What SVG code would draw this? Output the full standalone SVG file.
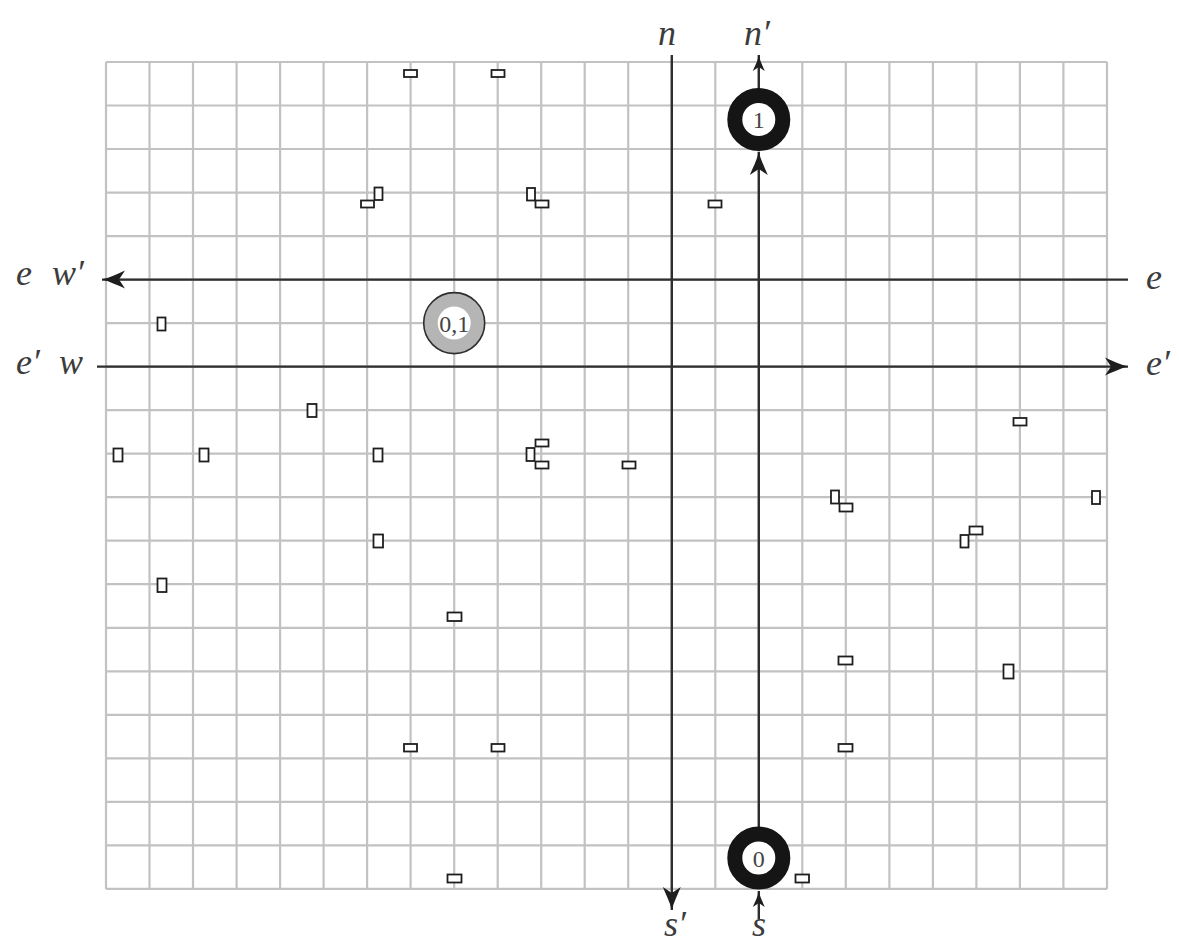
<svg xmlns="http://www.w3.org/2000/svg" width="1179" height="945" viewBox="0 0 1179 945">
<style>
.grid line{stroke:#c2c2c2;stroke-width:2.2}
.obs rect{fill:#ffffff;stroke:#1e1e1e;stroke-width:1.8}
.conn line{stroke:#2e2e2e;stroke-width:2.4;fill:none}
.lbl{font-family:"Liberation Serif",serif;font-style:italic;font-size:36px;fill:#3c3c3c}
.ntx{font-family:"Liberation Serif",serif;font-size:24px;fill:#444;text-anchor:middle}
.ring{fill:#ffffff;stroke:#151515;stroke-width:15}
</style>
<defs>
<marker id="arr" markerUnits="userSpaceOnUse" markerWidth="26" markerHeight="18" refX="24" refY="9" orient="auto" overflow="visible">
<path d="M24,9 C16,7 8,3 1,0 L7,9 L1,18 C8,15 16,11 24,9 Z" fill="#1e1e1e"/>
</marker>
<marker id="arrs" markerUnits="userSpaceOnUse" markerWidth="18" markerHeight="12" refX="17" refY="6" orient="auto" overflow="visible">
<path d="M17,6 C11,5 6,2 1,0 L5,6 L1,12 C6,10 11,7 17,6 Z" fill="#1e1e1e"/>
</marker>
</defs>
<rect width="1179" height="945" fill="#ffffff"/>
<g class="grid">
<line x1="106" y1="62" x2="106" y2="889"/>
<line x1="149.5" y1="62" x2="149.5" y2="889"/>
<line x1="193" y1="62" x2="193" y2="889"/>
<line x1="236.6" y1="62" x2="236.6" y2="889"/>
<line x1="280.1" y1="62" x2="280.1" y2="889"/>
<line x1="323.6" y1="62" x2="323.6" y2="889"/>
<line x1="367.1" y1="62" x2="367.1" y2="889"/>
<line x1="410.6" y1="62" x2="410.6" y2="889"/>
<line x1="454.2" y1="62" x2="454.2" y2="889"/>
<line x1="497.7" y1="62" x2="497.7" y2="889"/>
<line x1="541.2" y1="62" x2="541.2" y2="889"/>
<line x1="584.7" y1="62" x2="584.7" y2="889"/>
<line x1="628.2" y1="62" x2="628.2" y2="889"/>
<line x1="671.8" y1="62" x2="671.8" y2="889"/>
<line x1="715.3" y1="62" x2="715.3" y2="889"/>
<line x1="758.8" y1="62" x2="758.8" y2="889"/>
<line x1="802.3" y1="62" x2="802.3" y2="889"/>
<line x1="845.8" y1="62" x2="845.8" y2="889"/>
<line x1="889.4" y1="62" x2="889.4" y2="889"/>
<line x1="932.9" y1="62" x2="932.9" y2="889"/>
<line x1="976.4" y1="62" x2="976.4" y2="889"/>
<line x1="1019.9" y1="62" x2="1019.9" y2="889"/>
<line x1="1063.4" y1="62" x2="1063.4" y2="889"/>
<line x1="1107" y1="62" x2="1107" y2="889"/>
<line x1="106" y1="62" x2="1107" y2="62"/>
<line x1="106" y1="105.5" x2="1107" y2="105.5"/>
<line x1="106" y1="149" x2="1107" y2="149"/>
<line x1="106" y1="192.6" x2="1107" y2="192.6"/>
<line x1="106" y1="236.1" x2="1107" y2="236.1"/>
<line x1="106" y1="279.6" x2="1107" y2="279.6"/>
<line x1="106" y1="323.1" x2="1107" y2="323.1"/>
<line x1="106" y1="366.6" x2="1107" y2="366.6"/>
<line x1="106" y1="410.2" x2="1107" y2="410.2"/>
<line x1="106" y1="453.7" x2="1107" y2="453.7"/>
<line x1="106" y1="497.2" x2="1107" y2="497.2"/>
<line x1="106" y1="540.7" x2="1107" y2="540.7"/>
<line x1="106" y1="584.2" x2="1107" y2="584.2"/>
<line x1="106" y1="627.8" x2="1107" y2="627.8"/>
<line x1="106" y1="671.3" x2="1107" y2="671.3"/>
<line x1="106" y1="714.8" x2="1107" y2="714.8"/>
<line x1="106" y1="758.3" x2="1107" y2="758.3"/>
<line x1="106" y1="801.8" x2="1107" y2="801.8"/>
<line x1="106" y1="845.4" x2="1107" y2="845.4"/>
<line x1="106" y1="888.9" x2="1107" y2="888.9"/>
</g>
<g class="obs">
<rect x="404" y="70" width="13" height="7"/>
<rect x="491.5" y="70" width="13" height="7"/>
<rect x="361" y="200.5" width="13" height="7"/>
<rect x="374.5" y="187.5" width="8" height="12.5"/>
<rect x="527" y="188" width="8" height="12.5"/>
<rect x="535.5" y="200.5" width="13" height="7"/>
<rect x="708.5" y="200.5" width="13" height="7"/>
<rect x="157.5" y="317.5" width="8" height="13"/>
<rect x="307.5" y="404" width="9" height="13"/>
<rect x="113.5" y="448.5" width="9" height="13"/>
<rect x="199.5" y="448.5" width="9" height="13"/>
<rect x="373.5" y="448.5" width="9" height="13"/>
<rect x="535.5" y="439.5" width="13" height="7"/>
<rect x="526.5" y="448" width="8" height="13"/>
<rect x="535.5" y="461.5" width="13" height="7"/>
<rect x="622.5" y="461.5" width="13" height="7"/>
<rect x="1013.5" y="418" width="13" height="7.5"/>
<rect x="831" y="490.5" width="8" height="13"/>
<rect x="839.5" y="503.5" width="13" height="8"/>
<rect x="1092" y="491" width="8" height="13"/>
<rect x="969.5" y="526.5" width="13" height="8"/>
<rect x="960.5" y="535" width="8" height="12.5"/>
<rect x="373.5" y="534.5" width="9.5" height="13"/>
<rect x="157.5" y="578.5" width="9" height="13.5"/>
<rect x="447.5" y="612.5" width="14" height="8.5"/>
<rect x="838.5" y="656.5" width="14" height="8"/>
<rect x="1003.5" y="664.5" width="10" height="14"/>
<rect x="404" y="744" width="13" height="7.5"/>
<rect x="491.5" y="744" width="13" height="7.5"/>
<rect x="838.5" y="744" width="14" height="7.5"/>
<rect x="447.5" y="874.5" width="14" height="8"/>
<rect x="795.5" y="874.5" width="13.5" height="8"/>
</g>
<g id="connectors" class="conn">
<line x1="1128" y1="279.6" x2="102" y2="279.6" marker-end="url(#arr)"/>
<line x1="97" y1="366.6" x2="1128" y2="366.6" marker-end="url(#arr)"/>
<line x1="671.8" y1="55" x2="671.8" y2="910" marker-end="url(#arr)"/>
<line x1="758.8" y1="840" x2="758.8" y2="152" marker-end="url(#arr)"/>
<line x1="758.8" y1="95" x2="758.8" y2="55" marker-end="url(#arrs)"/>
<line x1="758.8" y1="919" x2="758.8" y2="891" marker-end="url(#arrs)"/>
</g>
<g id="node-1">
<circle class="ring" cx="758.8" cy="119.5" r="24"/>
<text class="ntx" x="758.8" y="128">1</text>
</g>
<g id="node-0">
<circle class="ring" cx="758.8" cy="858" r="24"/>
<text class="ntx" x="758.8" y="866.5">0</text>
</g>
<g id="node-01">
<circle cx="454.2" cy="323.1" r="30.5" fill="#b5b5b5" stroke="#2e2e2e" stroke-width="1.6"/>
<circle cx="454.2" cy="323.1" r="16.5" fill="#ffffff"/>
<text class="ntx" x="454.2" y="331.5">0,1</text>
</g>
<g id="labels">
<text class="lbl" x="658" y="45">n</text>
<text class="lbl" x="744" y="45">n′</text>
<text class="lbl" x="1146" y="289">e</text>
<text class="lbl" x="1146" y="375">e′</text>
<text class="lbl" x="16" y="285">e</text>
<text class="lbl" x="52" y="285">w′</text>
<text class="lbl" x="16" y="374">e′</text>
<text class="lbl" x="59" y="374">w</text>
<text class="lbl" x="664" y="936" font-size="33">s′</text>
<text class="lbl" x="752" y="936" font-size="33">s</text>
</g>
</svg>
